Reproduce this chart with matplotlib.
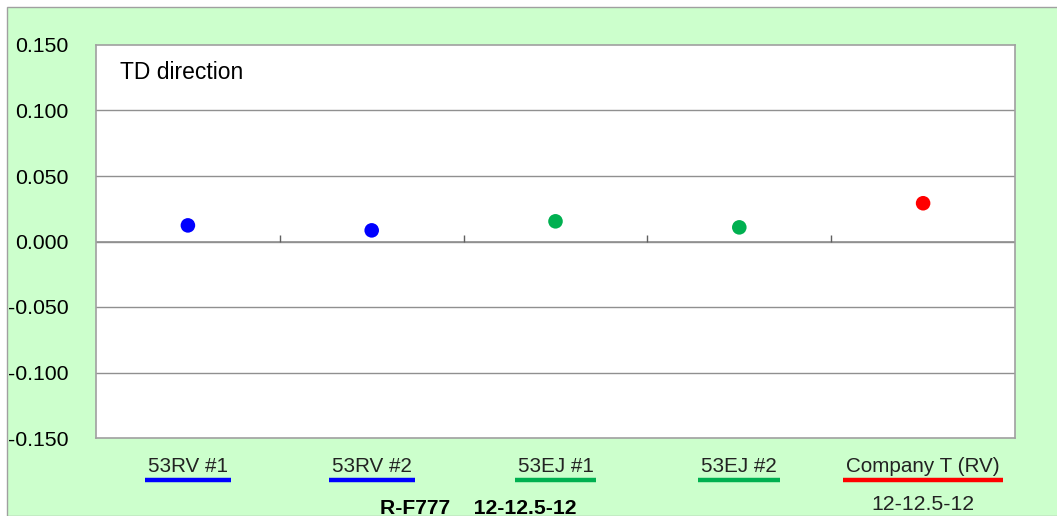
import matplotlib.pyplot as plt
from matplotlib.patches import Rectangle
from matplotlib.lines import Line2D
import matplotlib.transforms as mtransforms

plt.rcParams['font.family'] = ['Liberation Sans', 'DejaVu Sans']

# data
samples = ['53RV #1', '53RV #2', '53EJ #1', '53EJ #2', 'Company T (RV)']
td_values = [0.0123, 0.0085, 0.0154, 0.0108, 0.0292]
point_colors = ['#0000FF', '#0000FF', '#00B050', '#00B050', '#FF0000']
y_ticks = [-0.150, -0.100, -0.050, 0.000, 0.050, 0.100, 0.150]

W, H = 1057, 516
fig = plt.figure(figsize=(W / 100, H / 100), dpi=100)
fig.patch.set_facecolor('white')

# green chart area with thin grey border
fig.patches.append(Rectangle((7 / W, 0), 1.2, (H - 7) / H, transform=fig.transFigure,
                             facecolor='#CCFFCC', edgecolor='#A0A0A0', lw=1.0, zorder=-10))

ax = fig.add_axes([96 / W, 78 / H, (1015 - 96) / W, (438 - 45) / H])
ax.set_zorder(5)
ax.set_facecolor('white')
ax.set_xlim(-0.5, len(samples) - 0.5)
ax.set_ylim(-0.150, 0.150)

for s in ax.spines.values():
    s.set_color('#A0A0A0')
    s.set_linewidth(1.2)

for v in y_ticks[1:-1]:
    ax.axhline(v, color='#909090', lw=1.0, zorder=1)
ax.axhline(0, color='#909090', lw=1.2, zorder=1)

# category separator ticks on the zero line
ax.vlines([i + 0.5 for i in range(len(samples) - 1)], 0, 0.005, color='#606060', lw=1.0, zorder=2)

xs = list(range(len(samples)))
ax.scatter(xs, td_values, c=point_colors, s=110, zorder=3, edgecolors='none')

ax.set_xticks([])
ax.set_yticks(y_ticks)
ax.set_yticklabels([f'{v:.3f}' for v in y_ticks])
ax.tick_params(axis='y', length=0, pad=20, labelsize=15.3)

ax.text(0.026, 0.93, 'TD direction', transform=ax.transAxes, fontsize=16.5, va='center', ha='left')

# category labels with coloured underline
trans = mtransforms.blended_transform_factory(ax.transData, fig.transFigure)
labels = []
for x, name in zip(xs, samples):
    t = ax.text(x, (H - 467) / H, name, transform=trans, ha='center', va='center', fontsize=14.9,
                color='#222222', clip_on=False)
    labels.append(t)

fig.canvas.draw()
r = fig.canvas.get_renderer()
for t, c in zip(labels, point_colors):
    bb = t.get_window_extent(r)
    y = (H - 479.5) / H
    fig.add_artist(Line2D([(bb.x0 - 3) / W, (bb.x1 + 3) / W], [y, y], transform=fig.transFigure,
                          color=c, lw=3.2, solid_capstyle='butt'))

fig.text(478 / W, (H - 508) / H, 'R-F777    12-12.5-12', ha='center', va='center',
         fontsize=15.2, fontweight='bold')
ax.text(xs[-1], (H - 505) / H, '12-12.5-12', transform=trans, ha='center', va='center',
        fontsize=15.3, color='#222222', clip_on=False)

fig.savefig('out.png', dpi=100)
